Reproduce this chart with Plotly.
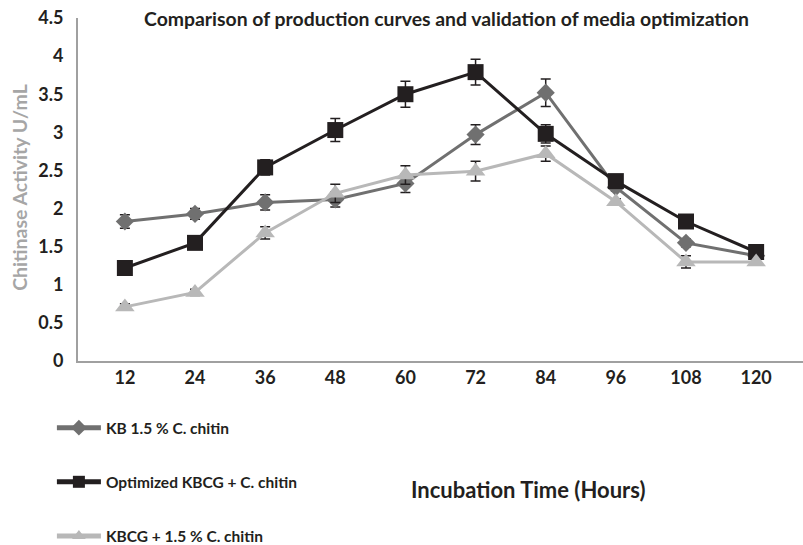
import plotly.graph_objects as go

hours = ["12", "24", "36", "48", "60", "72", "84", "96", "108", "120"]

kb_vals = [1.83, 1.93, 2.08, 2.12, 2.33, 2.97, 3.52, 2.28, 1.55, 1.38]
kb_err = [0.09, 0.07, 0.10, 0.10, 0.12, 0.13, 0.18, 0.05, 0.05, 0.03]

opt_vals = [1.22, 1.55, 2.54, 3.03, 3.50, 3.79, 2.98, 2.36, 1.83, 1.43]
opt_err = [0.03, 0.04, 0.10, 0.15, 0.17, 0.17, 0.12, 0.05, 0.04, 0.03]

kbcg_vals = [0.71, 0.90, 1.68, 2.20, 2.44, 2.49, 2.72, 2.09, 1.30, 1.30]
kbcg_err = [0.04, 0.04, 0.08, 0.12, 0.12, 0.13, 0.10, 0.04, 0.08, 0.03]

names = ["KB 1.5 % C. chitin", "Optimized KBCG + C. chitin", "KBCG + 1.5 % C. chitin"]
colors = ["#707070", "#231f20", "#b8b8b8"]
symbols = ["diamond", "square", "triangle-up"]
sizes = [14, 16, 17]
series = [(kb_vals, kb_err), (opt_vals, opt_err), (kbcg_vals, kbcg_err)]

FONT = "Lato"
DARK = "#231f20"

fig = go.Figure()
for i, (vals, err) in enumerate(series):
    fig.add_trace(go.Scatter(
        x=hours, y=vals, name=f"<b>{names[i]}</b>", mode="lines+markers",
        legendgroup=f"g{i}",
        line=dict(color=colors[i], width=3),
        marker=dict(symbol=symbols[i], size=sizes[i], color=colors[i]),
        error_y=dict(type="data", array=err, visible=True, color=DARK,
                     thickness=1.5, width=5),
    ))

fig.update_layout(
    width=803, height=545,
    margin=dict(l=78, r=0, t=18, b=184, autoexpand=False),
    plot_bgcolor="white", paper_bgcolor="white",
    font=dict(family=FONT, color=DARK),
    title=dict(text="<b>Comparison of production curves and validation of media optimization</b>",
               x=0.556, xanchor="center", y=0.965, yanchor="middle",
               font=dict(size=19.4, family=FONT, color=DARK)),
    xaxis=dict(type="category", showgrid=False, showline=True, linecolor="#a0a0a0",
               linewidth=1.5, ticks="", tickfont=dict(size=18, family=FONT, color=DARK),
               tickprefix="<b>", ticksuffix="</b>"),
    yaxis=dict(range=[0, 4.5], dtick=0.5, showgrid=False, showline=True,
               linecolor="#a0a0a0", linewidth=1.5, ticks="", zeroline=False,
               tickfont=dict(size=18, family=FONT, color=DARK),
               tickprefix="<b>", ticksuffix="</b>  "),
    legend=dict(x=-0.036, xanchor="left", y=-0.146, yanchor="top",
                orientation="v", tracegroupgap=31, itemsizing="constant", itemwidth=44,
                font=dict(size=15.5, family=FONT, color=DARK), bgcolor="rgba(0,0,0,0)"),
    showlegend=True,
    annotations=[
        dict(text="<b>Incubation Time (Hours)</b>", xref="paper", yref="paper",
             x=0.62, y=-0.375, xanchor="center", yanchor="middle", showarrow=False,
             font=dict(size=22, family=FONT, color=DARK)),
        dict(text="<b>Chitinase Activity U/mL</b>", xref="paper", yref="paper",
             x=-0.080, y=0.505, xanchor="center", yanchor="middle", showarrow=False,
             textangle=-90, font=dict(size=19.5, family=FONT, color="#a6a6a6")),
    ],
)

fig.write_html("out.html")
